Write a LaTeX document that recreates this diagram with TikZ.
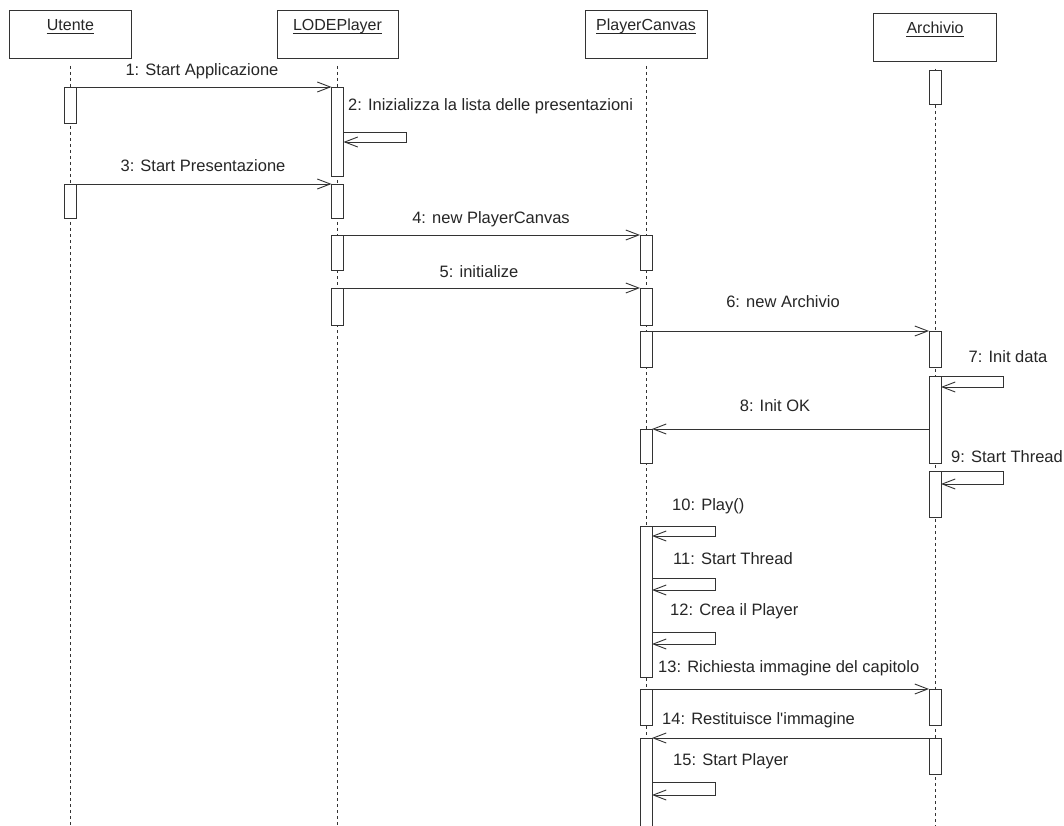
\documentclass[tikz,border=0pt]{standalone}
\usepackage{fontspec}
\setmainfont{Liberation Sans}
\usetikzlibrary{arrows.meta}

% activation bar: name, lifeline x, top y, bottom y
\newcommand\actbar[4]{\node[bar, minimum height=#4-#3] (#1) at (#2,#3) {};}
% self call on a bar: bar, loop name, right x, top y, bottom y
\newcommand\selfcall[5]{%
  \coordinate (#2t) at (#3,#4);
  \coordinate (#2b) at (#3,#5);
  \draw[msg] (#1.east |- #2t) -- (#2t) -- (#2b) -- (#1.east |- #2b);}

\begin{document}
\begin{tikzpicture}[x=1pt,y=-1pt,
  ink/.style={draw=black!80, line width=0.9pt},
  head/.style={ink, fill=white, minimum height=48pt, inner sep=0pt, outer sep=0pt, anchor=north},
  title/.style={font=\fontsize{16}{19}\selectfont, inner sep=0pt, anchor=base, text=black!85},
  life/.style={draw=black!80, line width=0.9pt, dash pattern=on 3pt off 3pt},
  bar/.style={ink, fill=white, minimum width=12pt, inner sep=0pt, outer sep=0pt, anchor=north},
  msg/.style={ink, -{Straight Barb[length=13pt,width=10pt]}},
  lbl/.style={font=\fontsize{16.5}{19}\selectfont, inner sep=0pt, text=black!85},
]
\useasboundingbox[fill=white] (0,0) rectangle (1064,826);

% object headers
\node[head, minimum width=122pt] (hU) at (70.5,10) {};
\node[head, minimum width=121pt] (hL) at (337.5,10) {};
\node[head, minimum width=122pt] (hP) at (646,10) {};
\node[head, minimum width=123pt] (hA) at (935,13) {};

\node[title] (tU) at (70.5,31) {Utente};
\node[title] (tL) at (337.5,31) {LODEPlayer};
\node[title] (tP) at (646,31) {PlayerCanvas};
\node[title] (tA) at (935,34) {Archivio};
\foreach \t in {tU,tL,tP,tA}
  \draw[draw=black!85, line width=0.8pt] ([yshift=-2pt]\t.base west) -- ([yshift=-2pt]\t.base east);

% lifelines
\coordinate (bottom) at (0,826);
\foreach \h in {hU,hL,hP,hA}
  \draw[life] ([yshift=-8pt]\h.south) -- (\h.south |- bottom);

% activation bars
\actbar{u1}{70.5}{87}{123}
\actbar{u2}{70.5}{184}{218}
\actbar{l1}{337.5}{87}{176}
\actbar{l2}{337.5}{184}{218}
\actbar{l3}{337.5}{235}{270}
\actbar{l4}{337.5}{288}{325}
\actbar{p1}{646}{235}{270}
\actbar{p2}{646}{288}{325}
\actbar{p3}{646}{331}{367}
\actbar{p4}{646}{429}{463}
\actbar{p5}{646}{526}{677}
\actbar{p6}{646}{689}{725}
\actbar{p7}{646}{738}{830}
\actbar{a0}{935}{70}{104}
\actbar{a1}{935}{331}{367}
\actbar{a2}{935}{376}{463}
\actbar{a3}{935}{471}{517}
\actbar{a4}{935}{689}{725}
\actbar{a5}{935}{738}{774}

% messages between objects
\draw[msg] (u1.north east) -- (l1.north west);
\draw[msg] (u2.north east) -- (l2.north west);
\draw[msg] (l3.north east) -- (p1.north west);
\draw[msg] (l4.north east) -- (p2.north west);
\draw[msg] (p3.north east) -- (a1.north west);
\draw[msg] (a2.west |- p4.north) -- (p4.north east);
\draw[msg] (p6.north east) -- (a4.north west);
\draw[msg] (a5.north west) -- (p7.north east);

% self calls
\selfcall{l1}{s2}{406}{132}{142}
\selfcall{a2}{s7}{1003}{376}{387}
\selfcall{a3}{s9}{1003}{471}{484}
\selfcall{p5}{s10}{715}{526}{536}
\selfcall{p5}{s11}{715}{578}{590}
\selfcall{p5}{s12}{715}{632}{644}
\selfcall{p7}{s15}{715}{782}{795}

% message labels
\node[lbl, anchor=base] (m1) at (202,76) {1: Start Applicazione};
\node[lbl, anchor=base west] (m2) at (348,111) {2: Inizializza la lista delle presentazioni};
\node[lbl, anchor=base] (m3) at (203,172) {3: Start Presentazione};
\node[lbl, anchor=base] (m4) at (491,223) {4: new PlayerCanvas};
\node[lbl, anchor=base] (m5) at (479,277) {5: initialize};
\node[lbl, anchor=base] (m6) at (783,307) {6: new Archivio};
\node[lbl, anchor=base] (m7) at (1008,362) {7: Init data};
\node[lbl, anchor=base] (m8) at (775,411) {8: Init OK};
\node[lbl, anchor=base] (m9) at (1007,462) {9: Start Thread};
\node[lbl, anchor=base west] (m10) at (672,510) {10: Play()};
\node[lbl, anchor=base west] (m11) at (673,564) {11: Start Thread};
\node[lbl, anchor=base west] (m12) at (670,615) {12: Crea il Player};
\node[lbl, anchor=base west] (m13) at (658,672) {13: Richiesta immagine del capitolo};
\node[lbl, anchor=base west] (m14) at (662,724) {14: Restituisce l\textquotesingle immagine};
\node[lbl, anchor=base west] (m15) at (673,765) {15: Start Player};
\end{tikzpicture}
\end{document}
